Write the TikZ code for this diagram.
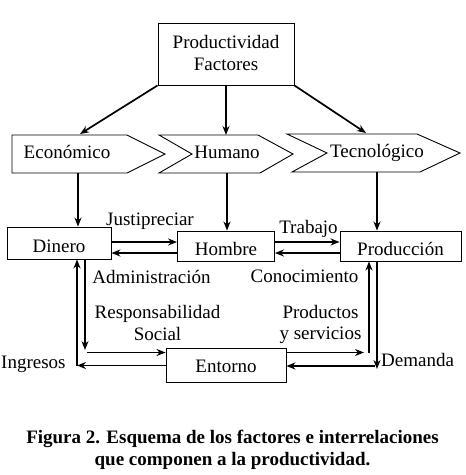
\documentclass[tikz,border=0pt]{standalone}
\usepackage{fontspec}
\setmainfont{Liberation Serif}
\usetikzlibrary{arrows.meta}
\begin{document}
\begin{tikzpicture}[x=1pt,y=-1pt,
  txt/.style={inner sep=0pt, font=\fontsize{19}{22}\selectfont},
  box/.style={draw, line width=0.9pt, inner sep=0pt, text height=18pt, text depth=0pt, font=\fontsize{19}{22}\selectfont},
  shp/.style={line width=0.9pt, line join=miter},
  arr/.style={line width=1.7pt, -{Stealth[length=9pt,width=7pt]}},
  captxt/.style={inner sep=0pt, font=\fontsize{19}{22}\selectfont\bfseries}]
\useasboundingbox (0,0) rectangle (466,475);
\fill[white] (0,0) rectangle (466,475);

% top box
\node[draw, line width=0.9pt, minimum width=136pt, minimum height=62pt, inner sep=0pt] (top) at (226,54) {};
\node[txt, anchor=base] (topa) at (226,48) {Productividad};
\node[txt, anchor=base] (topb) at (226,70) {Factores};

% chevron shapes
\draw[shp] (12,135) -- (127,135) -- (165,154) -- (127,173) -- (12,173) -- cycle;
\draw[shp] (159,135) -- (258,135) -- (293,154) -- (260,173) -- (159,173) -- (192,154) -- cycle;
\draw[shp] (287,134) -- (417,134) -- (460,153) -- (420,172) -- (292,172) -- (327,153) -- cycle;
\node[txt, anchor=base] (econ) at (67,158) {Económico};
\node[txt, anchor=base] (hum) at (227,158) {Humano};
\node[txt, anchor=base] (tec) at (377,157) {Tecnológico};
\coordinate (econtop) at (80,134);
\coordinate (humtop) at (226,135);
\coordinate (tectop) at (366,133);
\coordinate (econbot) at (78,173);
\coordinate (humbot) at (227,173);
\coordinate (tecbot) at (377,172);

% arrows from top box
\draw[arr] (top.south west) -- (econtop);
\draw[arr] (top.south) -- (humtop);
\draw[arr] (top.south east) -- (tectop);

% middle boxes
\node[box, minimum width=104pt, minimum height=32pt] (dinero) at (59,243) {Dinero};
\node[box, minimum width=97pt, minimum height=30pt] (hombre) at (226,246) {Hombre};
\node[box, minimum width=121pt, minimum height=30pt] (prod) at (400.5,246) {Producción};
\node[box, minimum width=120pt, minimum height=34pt, text height=14pt] (entorno) at (226,365.5) {Entorno};

\draw[arr] (econbot) -- (econbot |- dinero.north);
\draw[arr] (humbot) -- (humbot |- hombre.north);
\draw[arr] (tecbot) -- (tecbot |- prod.north);

% horizontal pairs
\draw[arr] (dinero.east |- 0,242) -- (hombre.west |- 0,242);
\draw[arr] (hombre.west |- 0,253) -- (dinero.east |- 0,253);
\draw[arr] (hombre.east |- 0,242) -- (prod.west |- 0,242);
\draw[arr] (prod.west |- 0,253) -- (hombre.east |- 0,253);

% left loop
\coordinate (ing) at (77,365.5);
\draw[arr] (entorno.west) -- (ing);
\draw[arr] (ing) -- (ing |- dinero.south);
\coordinate (dn) at (85,350);
\draw[arr] (dinero.south -| dn) -- (dn);
\draw[arr] (87,352.5) -- (entorno.west |- 0,352.5);

% right loop
\coordinate (dem) at (377,369);
\draw[arr] (prod.south -| dem) -- (dem);
\draw[arr] (375,366) -- (entorno.east |- 0,366);
\coordinate (up) at (369,352.5);
\draw[arr] (up) -- (up |- prod.south);
\draw[arr] (entorno.east |- 0,352.5) -- (364,352.5);

% labels
\node[txt, anchor=base] (justi) at (150,225) {Justipreciar};
\node[txt, anchor=base] (trab) at (308.5,233) {Trabajo};
\node[txt, anchor=base] (admin) at (151.5,283) {Administración};
\node[txt, anchor=base] (cono) at (304.5,282) {Conocimiento};
\node[txt, anchor=base] (resp) at (157.5,318) {Responsabilidad};
\node[txt, anchor=base] (soc) at (157.5,340) {Social};
\node[txt, anchor=base] (prods) at (320.5,318) {Productos};
\node[txt, anchor=base] (servs) at (320.5,339) {y servicios};
\node[txt, anchor=base west] (ingr) at (1,368) {Ingresos};
\node[txt, anchor=base west] (dema) at (381,366) {Demanda};

% caption
\node[captxt, anchor=base] (cap1) at (232.5,443) {Figura 2. Esquema de los factores e interrelaciones};
\node[captxt, anchor=base] (cap2) at (232.5,465) {que componen a la productividad.};
\end{tikzpicture}
\end{document}
